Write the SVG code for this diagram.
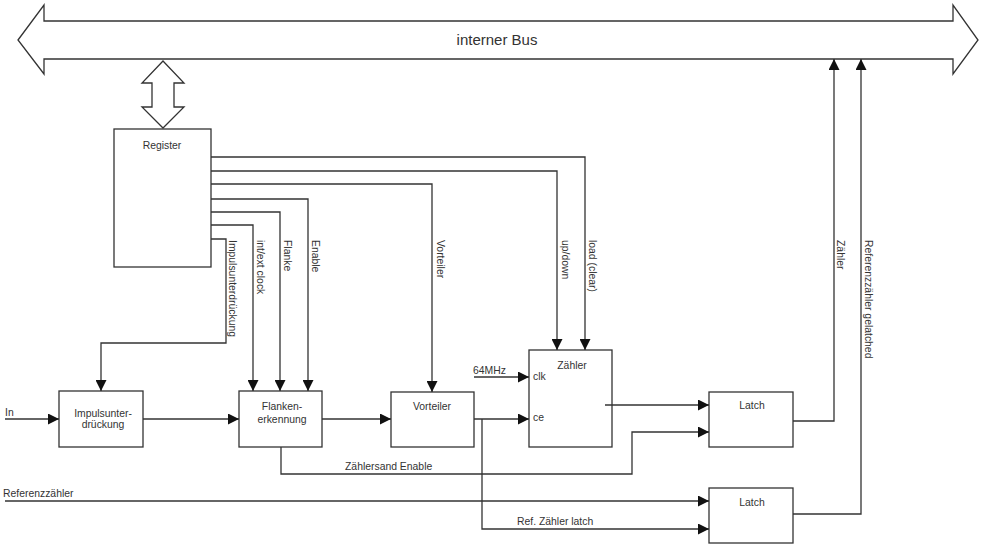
<svg xmlns="http://www.w3.org/2000/svg" width="985" height="544" viewBox="0 0 985 544">
<defs>
<marker id="ah" viewBox="0 0 10 10" refX="10" refY="5" markerWidth="11" markerHeight="11" markerUnits="userSpaceOnUse" orient="auto">
<path d="M0,0 L10,5 L0,10 z" fill="#111"/>
</marker>
<style>
.box{fill:#fff;stroke:#333;stroke-width:1.3}
.ln{fill:none;stroke:#333;stroke-width:1.3}
.arr{marker-end:url(#ah)}
text{font-family:"Liberation Sans",Arial,sans-serif;font-size:10.4px;fill:#333}
.c{text-anchor:middle}
</style>
</defs>
<rect width="985" height="544" fill="#fff"/>
<g id="bus">
<polygon class="box" points="18,40 44,5 44,21 953,21 953,5 978,40 953,74 953,59 44,59 44,74"/>
<text x="497" y="45" class="c" style="font-size:15px">interner Bus</text>
</g>
<g id="bus-link">
<polygon class="box" points="163,61 184,83 174,83 174,107 184,107 163,128 142,107 152,107 152,83 142,83"/>
</g>
<g id="register">
<rect class="box" x="114" y="129" width="97" height="138"/>
<text x="162" y="149" class="c">Register</text>
</g>
<g id="impulsunterdrueckung">
<rect class="box" x="59" y="391" width="84" height="56"/>
<text x="103" y="417" class="c">Impulsunter-</text>
<text x="103" y="428" class="c">drückung</text>
</g>
<g id="flankenerkennung">
<rect class="box" x="239" y="391" width="83" height="56"/>
<text x="282" y="410" class="c">Flanken-</text>
<text x="282" y="423" class="c">erkennung</text>
</g>
<g id="vorteiler">
<rect class="box" x="391" y="392" width="83" height="55"/>
<text x="432" y="410" class="c">Vorteiler</text>
</g>
<g id="zaehler">
<rect class="box" x="529" y="350" width="83" height="97"/>
<text x="572" y="369" class="c">Zähler</text>
<text x="533" y="380">clk</text>
<text x="533" y="421">ce</text>
</g>
<g id="latch1">
<rect class="box" x="709" y="392" width="84" height="55"/>
<text x="752" y="409" class="c">Latch</text>
</g>
<g id="latch2">
<rect class="box" x="709" y="488" width="84" height="55"/>
<text x="752" y="506" class="c">Latch</text>
</g>
<g id="connectors">
<path class="ln arr" d="M211,157 H585 V350"/>
<path class="ln arr" d="M211,171 H557 V350"/>
<path class="ln arr" d="M211,184 H432 V392"/>
<path class="ln arr" d="M211,199 H308 V391"/>
<path class="ln arr" d="M211,212 H280 V391"/>
<path class="ln arr" d="M211,225 H253 V391"/>
<path class="ln arr" d="M211,239 H226 V343 H101 V391"/>
<path class="ln arr" d="M5,419 H59"/>
<path class="ln arr" d="M143,419 H239"/>
<path class="ln arr" d="M322,419 H391"/>
<path class="ln arr" d="M474,419 H529"/>
<path class="ln arr" d="M474,377 H529"/>
<path class="ln arr" d="M605,405 H709"/>
<path class="ln arr" d="M281,447 V474 H632 V432 H709"/>
<path class="ln arr" d="M482,419 V529 H709"/>
<path class="ln arr" d="M5,501 H709"/>
<path class="ln arr" d="M793,421 H834 V59"/>
<path class="ln arr" d="M793,514 H861 V59"/>
<text transform="translate(229,240) rotate(90)">Impulsunterdrückung</text>
<text transform="translate(256.5,240) rotate(90)">int/ext clock</text>
<text transform="translate(284,240) rotate(90)">Flanke</text>
<text transform="translate(312,240) rotate(90)">Enable</text>
<text transform="translate(436.5,240) rotate(90)">Vorteiler</text>
<text transform="translate(561.5,240) rotate(90)">up/down</text>
<text transform="translate(589,240) rotate(90)">load (clear)</text>
<text transform="translate(836.5,240) rotate(90)">Zähler</text>
<text transform="translate(865,240) rotate(90)">Referenzzähler gelatched</text>
<text x="5" y="416">In</text>
<text x="473" y="374">64MHz</text>
<text x="345" y="470">Zählersand Enable</text>
<text x="517" y="525">Ref. Zähler latch</text>
<text x="3" y="497">Referenzzähler</text>
</g>
</svg>
